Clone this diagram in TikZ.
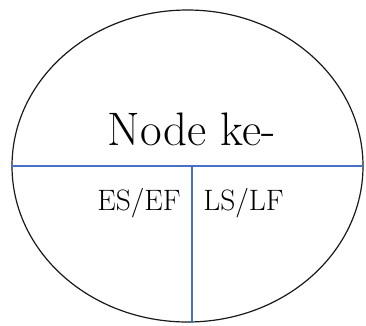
\documentclass[tikz,border=0pt]{standalone}
\usetikzlibrary{shapes.geometric}
\definecolor{divblue}{RGB}{70,112,200}
\begin{document}
\begin{tikzpicture}[x=1pt,y=1pt,
  outline/.style={draw=black!90, line width=1.2pt},
  divider/.style={draw=divblue, line width=2pt},
  bigtext/.style={font=\fontsize{47}{50}\selectfont, anchor=base, inner sep=0pt},
  smalltext/.style={font=\fontsize{29.5}{32}\selectfont, anchor=base, inner sep=0pt}]
\useasboundingbox (0,0) rectangle (366,325);
\node[ellipse, minimum width=351pt, minimum height=312pt, outline, inner sep=0pt] (ell) at (187.5,159) {};
\coordinate (L) at (12,159);
\coordinate (R) at (363,159);
\coordinate (M) at (191.5,159);
\coordinate (B) at (191.5,2);
\draw[divider] (L) -- (R);
\draw[divider] (M) -- (B);
\node[bigtext] (title) at (191.5,180) {Node ke-};
\node[smalltext] (es) at (139,115) {ES/EF};
\node[smalltext] (ls) at (243.5,115) {LS/LF};
\end{tikzpicture}
\end{document}
